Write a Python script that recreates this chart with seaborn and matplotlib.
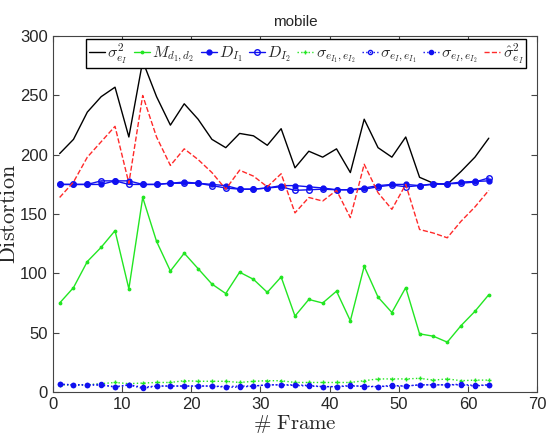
import matplotlib
matplotlib.use('Agg')
import matplotlib.pyplot as plt
import seaborn as sns
import pandas as pd

# frame numbers (every other frame)
frames = [1, 3, 5, 7, 9, 11, 13, 15, 17, 19, 21, 23, 25, 27, 29, 31,
          33, 35, 37, 39, 41, 43, 45, 47, 49, 51, 53, 55, 57, 59, 61, 63]

sigma2_e = [201, 213, 236, 249, 257, 215, 279, 249, 225, 243, 230, 213, 206, 218, 216, 208,
            222, 189, 203, 198, 205, 185, 230, 206, 198, 215, 181, 176, 175, 186, 198, 214]
m_d1d2 = [75, 88, 110, 122, 136, 87, 164, 127, 102, 117, 104, 91, 83, 101, 95, 84,
          97, 64, 78, 75, 85, 60, 106, 80, 67, 88, 49, 47, 42, 56, 68, 82]
d_i1 = [175, 175, 175, 175, 178, 178, 175, 175, 176, 177, 176, 175, 174, 171, 171, 172,
        174, 174, 173, 172, 170.5, 170.5, 172, 174, 175, 175, 174, 175.5, 175.5, 177, 177.5, 178]
d_i2 = [175, 175, 175, 178, 178, 175, 175, 175, 176, 176, 176, 174, 172, 171, 171, 172,
        173, 170, 170.5, 171, 170.5, 170.5, 171, 173, 174.5, 173, 174, 175, 175.5, 176, 177, 180.5]
s_ei1_ei2 = [6, 6, 6, 7, 8, 7, 7.5, 8, 8, 9.5, 9, 9, 9, 8, 9, 9.5,
             9.5, 8, 8, 8, 8, 8, 9.5, 11, 11, 11, 11.5, 10, 11, 9.5, 10, 10]
s_ei_ei1 = [6.5, 6, 6, 6.5, 4, 6, 3, 5, 5, 5, 5, 5, 4, 4, 5, 6,
            6, 6, 5.5, 4.5, 4.5, 5.5, 4.5, 4.5, 5.5, 5, 6, 6, 6, 6.5, 5.5, 6]
s_ei_ei2 = [6.5, 6, 6, 5.5, 4.5, 6, 4, 5, 5, 5, 5, 5, 4.5, 5, 5, 6,
            6, 5.5, 5, 4.5, 4.5, 5, 5, 4.5, 5, 5, 6, 6, 6, 6, 5, 6]
sigma2_hat = [164, 177, 198, 211, 224, 176, 250, 215, 191, 205, 196, 185, 171, 187, 182, 173,
              184, 151, 164, 161, 170, 147, 192, 168, 154, 175, 137, 134, 130, 144, 156, 170]

labels = [r'$\sigma^2_{e_I}$', r'$M_{d_1,d_2}$', r'$D_{I_1}$', r'$D_{I_2}$',
          r'$\sigma_{e_{I_1},e_{I_2}}$', r'$\sigma_{e_I,e_{I_1}}$',
          r'$\sigma_{e_I,e_{I_2}}$', r'$\hat{\sigma}^2_{e_I}$']

df = pd.DataFrame({'frame': frames, 's2': sigma2_e, 'm': m_d1d2, 'd1': d_i1, 'd2': d_i2,
                   'c12': s_ei1_ei2, 'c1': s_ei_ei1, 'c2': s_ei_ei2, 'hat': sigma2_hat})

sns.set_style('ticks')
plt.rcParams['font.family'] = ['Liberation Sans', 'DejaVu Sans']
plt.rcParams['mathtext.fontset'] = 'cm'
plt.rcParams['xtick.direction'] = 'in'
plt.rcParams['ytick.direction'] = 'in'

green = '#22e622'
blue = '#1010f0'
red = '#ff2a2a'

fig = plt.figure(figsize=(5.55, 4.36), dpi=100)
ax = fig.add_axes([0.095, 0.101, 0.873, 0.816])

# (column, color, linestyle, marker, markersize, filled)
styles = [('s2', 'black', '-', None, 0, True),
          ('m', green, '-', '.', 3.5, True),
          ('d1', blue, '-', 'o', 3.5, True),
          ('d2', blue, '-', 'o', 4, False),
          ('c12', green, ':', '+', 3.5, True),
          ('c1', blue, ':', 'o', 3, False),
          ('c2', blue, ':', 'o', 3, True),
          ('hat', red, '--', None, 0, True)]

for (col, c, ls, mk, ms, filled), lab in zip(styles, labels):
    kw = dict(linestyle=ls, linewidth=1.0)
    if mk is not None:
        kw.update(marker=mk, markersize=ms, markeredgecolor=c,
                  markerfacecolor=c if filled else 'none', markeredgewidth=1.0)
    sns.lineplot(data=df, x='frame', y=col, color=c, label=lab, ax=ax, **kw)

ax.set_xlim(0, 70)
ax.set_ylim(0, 300)
ax.set_xticks(range(0, 71, 10))
ax.set_yticks(range(0, 301, 50))
ax.tick_params(labelsize=12, top=True, right=True, length=4, color='#444444')
for s in ax.spines.values():
    s.set_color('#444444')
    s.set_linewidth(0.8)

ax.set_title('mobile', fontsize=11, pad=7)
ax.set_xlabel(r'$\#\ \mathrm{Frame}$', fontsize=15, labelpad=1)
ax.set_ylabel(r'$\mathrm{Distortion}$', fontsize=16, labelpad=0)

leg = ax.legend(loc='upper center', bbox_to_anchor=(0.523, 0.992), ncol=8,
                fontsize=11.5, handlelength=1.0, handletextpad=0.15,
                columnspacing=0.4, borderpad=0.15, borderaxespad=0.0,
                fancybox=False, framealpha=1)
leg.get_frame().set_edgecolor('black')
leg.get_frame().set_linewidth(1.0)

fig.savefig('out.png', dpi=100)
